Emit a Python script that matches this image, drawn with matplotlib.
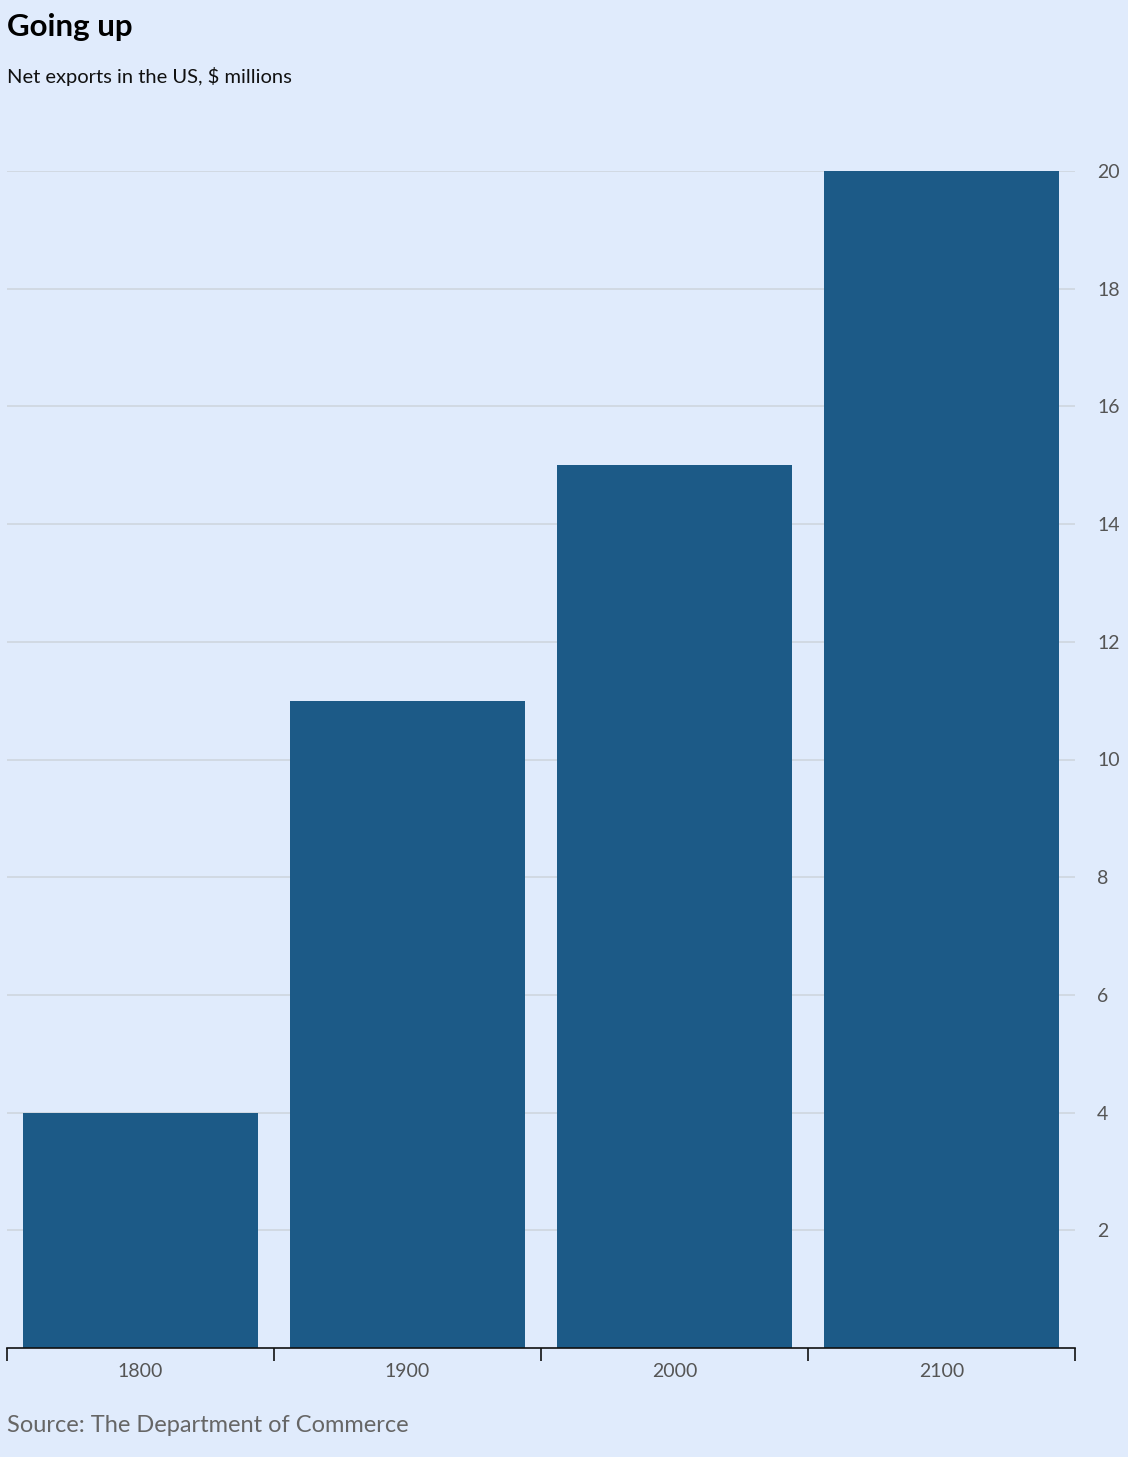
import matplotlib.pyplot as plt
import numpy as np

years = ["1800", "1900", "2000", "2100"]
net_exports = [4, 11, 15, 20]
y_ticks = [2, 4, 6, 8, 10, 12, 14, 16, 18, 20]

bg = "#e0ebfc"
bar_color = "#1c5a87"

plt.rcParams["font.family"] = ["Lato", "DejaVu Sans"]

fig = plt.figure(figsize=(11.28, 14.57), dpi=100)
fig.patch.set_facecolor(bg)

W, H = 1128, 1457
ax = fig.add_axes([7 / W, (H - 1348) / H, (1075 - 7) / W, (1348 - 171) / H])
ax.set_facecolor(bg)

x = np.arange(len(years))
ax.bar(x, net_exports, width=0.88, color=bar_color, zorder=3)

ax.set_xlim(-0.5, len(years) - 0.5)
ax.set_ylim(0, 20)

ax.set_yticks(y_ticks)
ax.yaxis.tick_right()
ax.tick_params(axis="y", length=0, pad=16, labelsize=14, labelcolor="#555555")
ax.grid(axis="y", color="#cfd6df", linewidth=1.2, zorder=1)

ax.set_xticks(x)
ax.set_xticklabels(years)
ax.set_xticks(np.arange(-0.5, len(years)), minor=True)
ax.tick_params(axis="x", which="major", length=0, pad=11, labelsize=14, labelcolor="#555555")
ax.tick_params(axis="x", which="minor", length=9, width=1.2, color="#111111", direction="out")

for side in ["top", "left", "right"]:
    ax.spines[side].set_visible(False)
ax.spines["bottom"].set_color("#111111")
ax.spines["bottom"].set_linewidth(1.2)
ax.spines["bottom"].set_zorder(4)

fig.text(7 / W, 1 - 27 / H, "Going up", fontsize=22.5, fontweight="bold", color="#000000", va="center", ha="left")
fig.text(7 / W, 1 - 77 / H, "Net exports in the US, $ millions", fontsize=14.5, color="#111111", va="center", ha="left")
fig.text(7 / W, 1 - 1426 / H, "Source: The Department of Commerce", fontsize=17, color="#666666", va="center", ha="left")

fig.savefig("out.png", dpi=100, facecolor=bg)
